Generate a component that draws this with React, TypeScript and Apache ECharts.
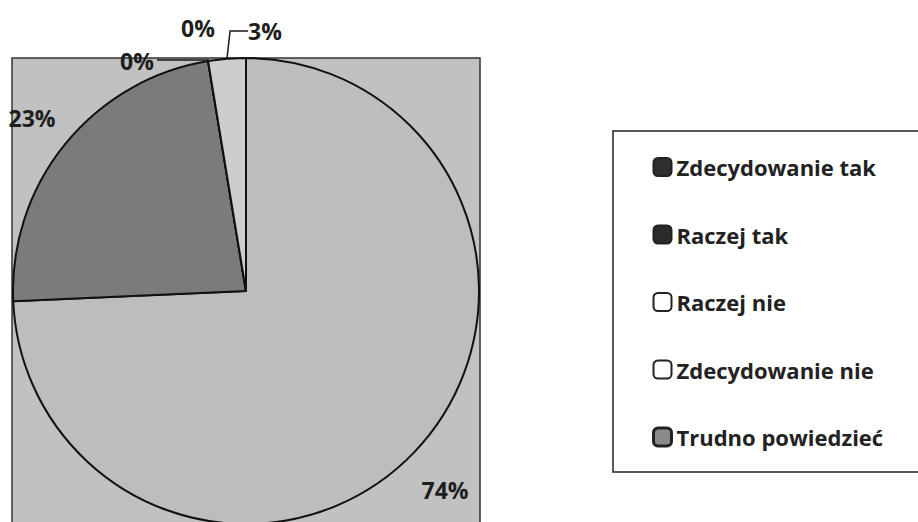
import React, { useEffect, useRef } from "react";
import * as echarts from "echarts";

const categories = [
  "Zdecydowanie tak",
  "Raczej tak",
  "Raczej nie",
  "Zdecydowanie nie",
  "Trudno powiedzieć",
];
const values = [74.3, 23.1, 0, 0, 2.6];
const sliceColors = ["#bdbdbd", "#7b7b7b", "#ffffff", "#ffffff", "#cdcdcd"];
const legendFill = ["#2f2f2f", "#2a2a2a", "#ffffff", "#ffffff", "#8a8a8a"];
const legendBorderW = [2, 2, 2, 2, 3];
// label anchor positions (center) for each slice label
const labelPos: [number, number][] = [
  [445, 490],
  [32, 118],
  [137, 61],
  [198, 28],
  [265, 31],
];
const showLeader = [false, false, false, false, true];

export default function App() {
  const ref = useRef<HTMLDivElement>(null);
  useEffect(() => {
    if (!ref.current) return;
    const chart = echarts.init(ref.current, undefined, { renderer: "svg" });
    const font = "'Open Sans', 'DejaVu Sans', sans-serif";
    chart.setOption({
      animation: false,
      backgroundColor: "#ffffff",
      graphic: [
        {
          type: "rect",
          z: 0,
          shape: { x: 12, y: 58, width: 468, height: 480 },
          style: { fill: "#c1c1c1", stroke: "#333333", lineWidth: 1.5 },
        },
        {
          type: "line",
          z: 10,
          shape: { x1: 157, y1: 60, x2: 209, y2: 60 },
          style: { stroke: "#1a1a1a", lineWidth: 1.5 },
        },
      ],
      legend: {
        orient: "vertical",
        left: 613,
        top: 131,
        padding: [24, 80, 23, 39],
        itemGap: 43.5,
        itemWidth: 18,
        itemHeight: 18,
        icon: "roundRect",
        borderColor: "#222222",
        borderWidth: 1.5,
        textStyle: {
          fontFamily: font,
          fontWeight: "bold",
          fontSize: 22,
          lineHeight: 24,
          color: "#222222",
        },
        data: categories.map((c, i) => ({
          name: c,
          itemStyle: {
            color: legendFill[i],
            borderColor: "#222222",
            borderWidth: legendBorderW[i],
          },
        })),
      },
      series: [
        {
          type: "pie",
          center: [246, 291],
          radius: 233,
          startAngle: 90,
          clockwise: true,
          avoidLabelOverlap: false,
          itemStyle: { borderColor: "#111111", borderWidth: 2 },
          label: {
            show: true,
            position: "outside",
            fontFamily: font,
            fontWeight: "bold",
            fontSize: 23,
            color: "#1e1e1e",
            formatter: (p: any) => `${Math.round(p.value)}%`,
          },
          labelLine: {
            show: true,
            length: 10,
            length2: 18,
            lineStyle: { color: "#1a1a1a", width: 1.5 },
          },
          labelLayout: (p: any) => {
            const pos = labelPos[p.dataIndex];
            return {
              x: pos[0],
              y: pos[1],
              align: "center",
              verticalAlign: "middle",
            };
          },
          data: categories.map((c, i) => ({
            name: c,
            value: values[i],
            itemStyle: { color: sliceColors[i] },
            labelLine: { show: showLeader[i] },
          })),
        },
      ],
    });
    return () => chart.dispose();
  }, []);
  return (
    <div
      ref={ref}
      style={{ position: "fixed", left: 0, top: 0, width: 918, height: 522 }}
    />
  );
}
